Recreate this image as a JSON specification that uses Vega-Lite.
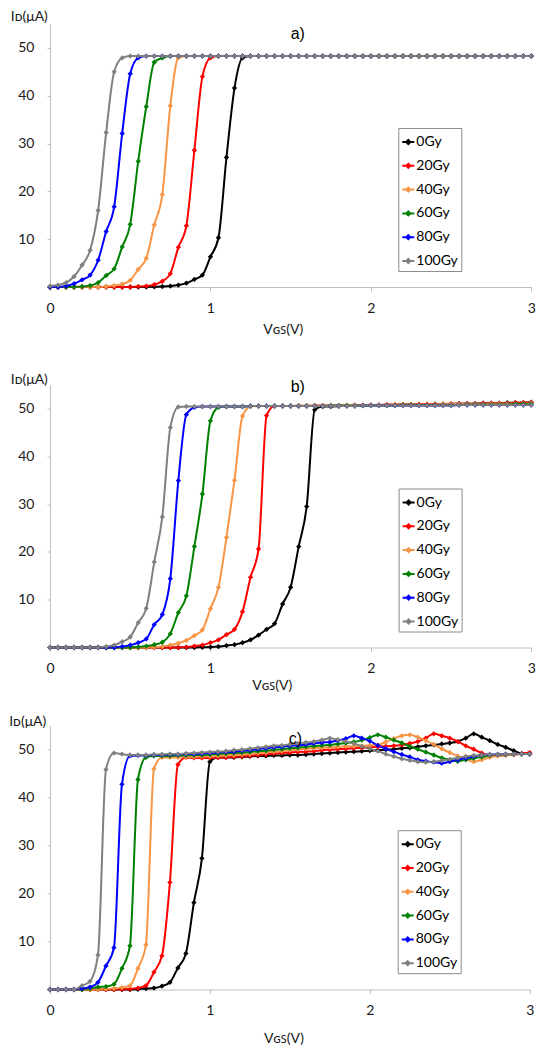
{
"$schema":"https://vega.github.io/schema/vega-lite/v6.json",
"padding":{"left":8,"top":9,"right":0,"bottom":0},
"config":{
"view":{"stroke":null},
"font":"Lato",
"axis":{"grid":false,"domainColor":"#bfbfbf","tickColor":"#bfbfbf","labelFont":"Lato","labelFontSize":14,"labelColor":"#1a1a1a","titleFont":"Lato, Noto Sans","titleFontSize":14,"titleFontWeight":"normal","titleColor":"#1a1a1a","labelFlush":false},
"axisX":{"tickSize":4,"labelPadding":10},
"axisY":{"tickSize":3,"labelPadding":13},
"legend":{"padding":3,"strokeColor":"#8c8c8c","fillColor":"#ffffff","labelFont":"Lato","labelFontSize":14,"labelColor":"#000000","labelOffset":-7,"rowPadding":5.8,"labelLimit":200},
"title":{"font":"Liberation Sans","fontSize":16,"fontWeight":"normal","color":"#000000"}
},
"datasets":{
"a":[
{"x":0,"0Gy":0,"20Gy":0,"40Gy":0,"60Gy":0,"80Gy":0,"100Gy":0.2},
{"x":0.05,"0Gy":0,"20Gy":0,"40Gy":0,"60Gy":0,"80Gy":0,"100Gy":0.4},
{"x":0.1,"0Gy":0,"20Gy":0,"40Gy":0,"60Gy":0,"80Gy":0.2,"100Gy":0.9},
{"x":0.15,"0Gy":0,"20Gy":0,"40Gy":0,"60Gy":0,"80Gy":0.7,"100Gy":2.2},
{"x":0.2,"0Gy":0,"20Gy":0,"40Gy":0,"60Gy":0.1,"80Gy":1.5,"100Gy":4.6},
{"x":0.25,"0Gy":0,"20Gy":0,"40Gy":0,"60Gy":0.3,"80Gy":2.5,"100Gy":7.7},
{"x":0.3,"0Gy":0,"20Gy":0,"40Gy":0,"60Gy":0.9,"80Gy":5.6,"100Gy":16},
{"x":0.35,"0Gy":0,"20Gy":0,"40Gy":0.1,"60Gy":2.4,"80Gy":11.6,"100Gy":32.3},
{"x":0.4,"0Gy":0,"20Gy":0,"40Gy":0.3,"60Gy":3.8,"80Gy":16.8,"100Gy":45},
{"x":0.45,"0Gy":0,"20Gy":0,"40Gy":0.6,"60Gy":8.4,"80Gy":32.1,"100Gy":47.9},
{"x":0.5,"0Gy":0,"20Gy":0,"40Gy":1.4,"60Gy":13.1,"80Gy":44.6,"100Gy":48.3},
{"x":0.55,"0Gy":0,"20Gy":0.1,"40Gy":3.7,"60Gy":26.3,"80Gy":47.9,"100Gy":48.3},
{"x":0.6,"0Gy":0,"20Gy":0.2,"40Gy":6,"60Gy":37.7,"80Gy":48.3,"100Gy":48.3},
{"x":0.65,"0Gy":0.05,"20Gy":0.5,"40Gy":13,"60Gy":47,"80Gy":48.3,"100Gy":48.3},
{"x":0.7,"0Gy":0.1,"20Gy":1.2,"40Gy":19.3,"60Gy":47.9,"80Gy":48.3,"100Gy":48.3},
{"x":0.75,"0Gy":0.2,"20Gy":2.8,"40Gy":37.9,"60Gy":48.3,"80Gy":48.3,"100Gy":48.3},
{"x":0.8,"0Gy":0.4,"20Gy":8.3,"40Gy":47.9,"60Gy":48.3,"80Gy":48.3,"100Gy":48.3},
{"x":0.85,"0Gy":0.8,"20Gy":12.8,"40Gy":48.3,"60Gy":48.3,"80Gy":48.3,"100Gy":48.3},
{"x":0.9,"0Gy":1.6,"20Gy":28.6,"40Gy":48.3,"60Gy":48.3,"80Gy":48.3,"100Gy":48.3},
{"x":0.95,"0Gy":2.5,"20Gy":44,"40Gy":48.3,"60Gy":48.3,"80Gy":48.3,"100Gy":48.3},
{"x":1,"0Gy":6.3,"20Gy":47.9,"40Gy":48.3,"60Gy":48.3,"80Gy":48.3,"100Gy":48.3},
{"x":1.05,"0Gy":10.3,"20Gy":48.3,"40Gy":48.3,"60Gy":48.3,"80Gy":48.3,"100Gy":48.3},
{"x":1.1,"0Gy":27.1,"20Gy":48.3,"40Gy":48.3,"60Gy":48.3,"80Gy":48.3,"100Gy":48.3},
{"x":1.15,"0Gy":41.6,"20Gy":48.3,"40Gy":48.3,"60Gy":48.3,"80Gy":48.3,"100Gy":48.3},
{"x":1.2,"0Gy":47.9,"20Gy":48.3,"40Gy":48.3,"60Gy":48.3,"80Gy":48.3,"100Gy":48.3},
{"x":1.25,"0Gy":48.3,"20Gy":48.3,"40Gy":48.3,"60Gy":48.3,"80Gy":48.3,"100Gy":48.3},
{"x":1.3,"0Gy":48.3,"20Gy":48.3,"40Gy":48.3,"60Gy":48.3,"80Gy":48.3,"100Gy":48.3},
{"x":1.35,"0Gy":48.3,"20Gy":48.3,"40Gy":48.3,"60Gy":48.3,"80Gy":48.3,"100Gy":48.3},
{"x":1.4,"0Gy":48.3,"20Gy":48.3,"40Gy":48.3,"60Gy":48.3,"80Gy":48.3,"100Gy":48.3},
{"x":1.45,"0Gy":48.3,"20Gy":48.3,"40Gy":48.3,"60Gy":48.3,"80Gy":48.3,"100Gy":48.3},
{"x":1.5,"0Gy":48.3,"20Gy":48.3,"40Gy":48.3,"60Gy":48.3,"80Gy":48.3,"100Gy":48.3},
{"x":1.55,"0Gy":48.3,"20Gy":48.3,"40Gy":48.3,"60Gy":48.3,"80Gy":48.3,"100Gy":48.3},
{"x":1.6,"0Gy":48.3,"20Gy":48.3,"40Gy":48.3,"60Gy":48.3,"80Gy":48.3,"100Gy":48.3},
{"x":1.65,"0Gy":48.3,"20Gy":48.3,"40Gy":48.3,"60Gy":48.3,"80Gy":48.3,"100Gy":48.3},
{"x":1.7,"0Gy":48.3,"20Gy":48.3,"40Gy":48.3,"60Gy":48.3,"80Gy":48.3,"100Gy":48.3},
{"x":1.75,"0Gy":48.3,"20Gy":48.3,"40Gy":48.3,"60Gy":48.3,"80Gy":48.3,"100Gy":48.3},
{"x":1.8,"0Gy":48.3,"20Gy":48.3,"40Gy":48.3,"60Gy":48.3,"80Gy":48.3,"100Gy":48.3},
{"x":1.85,"0Gy":48.3,"20Gy":48.3,"40Gy":48.3,"60Gy":48.3,"80Gy":48.3,"100Gy":48.3},
{"x":1.9,"0Gy":48.3,"20Gy":48.3,"40Gy":48.3,"60Gy":48.3,"80Gy":48.3,"100Gy":48.3},
{"x":1.95,"0Gy":48.3,"20Gy":48.3,"40Gy":48.3,"60Gy":48.3,"80Gy":48.3,"100Gy":48.3},
{"x":2,"0Gy":48.3,"20Gy":48.3,"40Gy":48.3,"60Gy":48.3,"80Gy":48.3,"100Gy":48.3},
{"x":2.05,"0Gy":48.3,"20Gy":48.3,"40Gy":48.3,"60Gy":48.3,"80Gy":48.3,"100Gy":48.3},
{"x":2.1,"0Gy":48.3,"20Gy":48.3,"40Gy":48.3,"60Gy":48.3,"80Gy":48.3,"100Gy":48.3},
{"x":2.15,"0Gy":48.3,"20Gy":48.3,"40Gy":48.3,"60Gy":48.3,"80Gy":48.3,"100Gy":48.3},
{"x":2.2,"0Gy":48.3,"20Gy":48.3,"40Gy":48.3,"60Gy":48.3,"80Gy":48.3,"100Gy":48.3},
{"x":2.25,"0Gy":48.3,"20Gy":48.3,"40Gy":48.3,"60Gy":48.3,"80Gy":48.3,"100Gy":48.3},
{"x":2.3,"0Gy":48.3,"20Gy":48.3,"40Gy":48.3,"60Gy":48.3,"80Gy":48.3,"100Gy":48.3},
{"x":2.35,"0Gy":48.3,"20Gy":48.3,"40Gy":48.3,"60Gy":48.3,"80Gy":48.3,"100Gy":48.3},
{"x":2.4,"0Gy":48.3,"20Gy":48.3,"40Gy":48.3,"60Gy":48.3,"80Gy":48.3,"100Gy":48.3},
{"x":2.45,"0Gy":48.3,"20Gy":48.3,"40Gy":48.3,"60Gy":48.3,"80Gy":48.3,"100Gy":48.3},
{"x":2.5,"0Gy":48.3,"20Gy":48.3,"40Gy":48.3,"60Gy":48.3,"80Gy":48.3,"100Gy":48.3},
{"x":2.55,"0Gy":48.3,"20Gy":48.3,"40Gy":48.3,"60Gy":48.3,"80Gy":48.3,"100Gy":48.3},
{"x":2.6,"0Gy":48.3,"20Gy":48.3,"40Gy":48.3,"60Gy":48.3,"80Gy":48.3,"100Gy":48.3},
{"x":2.65,"0Gy":48.3,"20Gy":48.3,"40Gy":48.3,"60Gy":48.3,"80Gy":48.3,"100Gy":48.3},
{"x":2.7,"0Gy":48.3,"20Gy":48.3,"40Gy":48.3,"60Gy":48.3,"80Gy":48.3,"100Gy":48.3},
{"x":2.75,"0Gy":48.3,"20Gy":48.3,"40Gy":48.3,"60Gy":48.3,"80Gy":48.3,"100Gy":48.3},
{"x":2.8,"0Gy":48.3,"20Gy":48.3,"40Gy":48.3,"60Gy":48.3,"80Gy":48.3,"100Gy":48.3},
{"x":2.85,"0Gy":48.3,"20Gy":48.3,"40Gy":48.3,"60Gy":48.3,"80Gy":48.3,"100Gy":48.3},
{"x":2.9,"0Gy":48.3,"20Gy":48.3,"40Gy":48.3,"60Gy":48.3,"80Gy":48.3,"100Gy":48.3},
{"x":2.95,"0Gy":48.3,"20Gy":48.3,"40Gy":48.3,"60Gy":48.3,"80Gy":48.3,"100Gy":48.3},
{"x":3,"0Gy":48.3,"20Gy":48.3,"40Gy":48.3,"60Gy":48.3,"80Gy":48.3,"100Gy":48.3}
],
"b":[
{"x":0,"0Gy":0,"20Gy":0,"40Gy":0,"60Gy":0,"80Gy":0,"100Gy":0},
{"x":0.05,"0Gy":0,"20Gy":0,"40Gy":0,"60Gy":0,"80Gy":0,"100Gy":0},
{"x":0.1,"0Gy":0,"20Gy":0,"40Gy":0,"60Gy":0,"80Gy":0,"100Gy":0},
{"x":0.15,"0Gy":0,"20Gy":0,"40Gy":0,"60Gy":0,"80Gy":0,"100Gy":0},
{"x":0.2,"0Gy":0,"20Gy":0,"40Gy":0,"60Gy":0,"80Gy":0,"100Gy":0},
{"x":0.25,"0Gy":0,"20Gy":0,"40Gy":0,"60Gy":0,"80Gy":0,"100Gy":0},
{"x":0.3,"0Gy":0,"20Gy":0,"40Gy":0,"60Gy":0,"80Gy":0,"100Gy":0},
{"x":0.35,"0Gy":0,"20Gy":0,"40Gy":0,"60Gy":0,"80Gy":0,"100Gy":0.2},
{"x":0.4,"0Gy":0,"20Gy":0,"40Gy":0,"60Gy":0,"80Gy":0,"100Gy":0.5},
{"x":0.45,"0Gy":0,"20Gy":0,"40Gy":0,"60Gy":0,"80Gy":0.2,"100Gy":1.2},
{"x":0.5,"0Gy":0,"20Gy":0,"40Gy":0,"60Gy":0,"80Gy":0.5,"100Gy":2.2},
{"x":0.55,"0Gy":0,"20Gy":0,"40Gy":0,"60Gy":0.1,"80Gy":1,"100Gy":5.2},
{"x":0.6,"0Gy":0,"20Gy":0,"40Gy":0,"60Gy":0.3,"80Gy":1.8,"100Gy":8.2},
{"x":0.65,"0Gy":0,"20Gy":0,"40Gy":0.05,"60Gy":0.6,"80Gy":4.8,"100Gy":17.9},
{"x":0.7,"0Gy":0,"20Gy":0,"40Gy":0.2,"60Gy":1.1,"80Gy":6.9,"100Gy":27.3},
{"x":0.75,"0Gy":0,"20Gy":0,"40Gy":0.5,"60Gy":2.9,"80Gy":14.4,"100Gy":46},
{"x":0.8,"0Gy":0,"20Gy":0,"40Gy":0.9,"60Gy":7.3,"80Gy":34.9,"100Gy":50.3},
{"x":0.85,"0Gy":0,"20Gy":0.1,"40Gy":1.5,"60Gy":10.8,"80Gy":48.7,"100Gy":50.4},
{"x":0.9,"0Gy":0,"20Gy":0.3,"40Gy":2.5,"60Gy":21.1,"80Gy":50.2,"100Gy":50.4},
{"x":0.95,"0Gy":0.05,"20Gy":0.5,"40Gy":3.7,"60Gy":32.1,"80Gy":50.4,"100Gy":50.4},
{"x":1,"0Gy":0.1,"20Gy":1,"40Gy":8.1,"60Gy":47.4,"80Gy":50.4,"100Gy":50.4},
{"x":1.05,"0Gy":0.2,"20Gy":1.6,"40Gy":12.6,"60Gy":50.2,"80Gy":50.4,"100Gy":50.4},
{"x":1.1,"0Gy":0.4,"20Gy":2.7,"40Gy":23,"60Gy":50.4,"80Gy":50.4,"100Gy":50.4},
{"x":1.15,"0Gy":0.6,"20Gy":3.8,"40Gy":35,"60Gy":50.4,"80Gy":50.4,"100Gy":50.4},
{"x":1.2,"0Gy":1,"20Gy":7.5,"40Gy":48.4,"60Gy":50.4,"80Gy":50.4,"100Gy":50.4},
{"x":1.25,"0Gy":1.6,"20Gy":14.7,"40Gy":50.4,"60Gy":50.5,"80Gy":50.5,"100Gy":50.5},
{"x":1.3,"0Gy":2.6,"20Gy":20.6,"40Gy":50.5,"60Gy":50.5,"80Gy":50.5,"100Gy":50.5},
{"x":1.35,"0Gy":3.8,"20Gy":48.5,"40Gy":50.5,"60Gy":50.5,"80Gy":50.5,"100Gy":50.5},
{"x":1.4,"0Gy":5,"20Gy":50.5,"40Gy":50.5,"60Gy":50.5,"80Gy":50.5,"100Gy":50.5},
{"x":1.45,"0Gy":9.1,"20Gy":50.5,"40Gy":50.5,"60Gy":50.5,"80Gy":50.5,"100Gy":50.5},
{"x":1.5,"0Gy":12.6,"20Gy":50.5,"40Gy":50.5,"60Gy":50.5,"80Gy":50.5,"100Gy":50.5},
{"x":1.55,"0Gy":21.1,"20Gy":50.5,"40Gy":50.6,"60Gy":50.5,"80Gy":50.5,"100Gy":50.5},
{"x":1.6,"0Gy":29.5,"20Gy":50.5,"40Gy":50.6,"60Gy":50.5,"80Gy":50.5,"100Gy":50.5},
{"x":1.65,"0Gy":49.7,"20Gy":50.6,"40Gy":50.6,"60Gy":50.5,"80Gy":50.5,"100Gy":50.5},
{"x":1.7,"0Gy":50.4,"20Gy":50.6,"40Gy":50.6,"60Gy":50.5,"80Gy":50.5,"100Gy":50.5},
{"x":1.75,"0Gy":50.4,"20Gy":50.6,"40Gy":50.6,"60Gy":50.6,"80Gy":50.5,"100Gy":50.5},
{"x":1.8,"0Gy":50.5,"20Gy":50.6,"40Gy":50.6,"60Gy":50.6,"80Gy":50.5,"100Gy":50.5},
{"x":1.85,"0Gy":50.6,"20Gy":50.6,"40Gy":50.7,"60Gy":50.6,"80Gy":50.5,"100Gy":50.5},
{"x":1.9,"0Gy":50.6,"20Gy":50.7,"40Gy":50.7,"60Gy":50.6,"80Gy":50.5,"100Gy":50.5},
{"x":1.95,"0Gy":50.6,"20Gy":50.7,"40Gy":50.7,"60Gy":50.6,"80Gy":50.6,"100Gy":50.6},
{"x":2,"0Gy":50.7,"20Gy":50.7,"40Gy":50.7,"60Gy":50.6,"80Gy":50.6,"100Gy":50.6},
{"x":2.05,"0Gy":50.7,"20Gy":50.7,"40Gy":50.7,"60Gy":50.6,"80Gy":50.6,"100Gy":50.6},
{"x":2.1,"0Gy":50.7,"20Gy":50.8,"40Gy":50.7,"60Gy":50.6,"80Gy":50.6,"100Gy":50.6},
{"x":2.15,"0Gy":50.7,"20Gy":50.8,"40Gy":50.8,"60Gy":50.6,"80Gy":50.6,"100Gy":50.6},
{"x":2.2,"0Gy":50.8,"20Gy":50.8,"40Gy":50.8,"60Gy":50.7,"80Gy":50.6,"100Gy":50.6},
{"x":2.25,"0Gy":50.8,"20Gy":50.8,"40Gy":50.8,"60Gy":50.7,"80Gy":50.6,"100Gy":50.6},
{"x":2.3,"0Gy":50.8,"20Gy":50.9,"40Gy":50.8,"60Gy":50.7,"80Gy":50.6,"100Gy":50.6},
{"x":2.35,"0Gy":50.8,"20Gy":50.9,"40Gy":50.8,"60Gy":50.7,"80Gy":50.6,"100Gy":50.6},
{"x":2.4,"0Gy":50.9,"20Gy":50.9,"40Gy":50.8,"60Gy":50.7,"80Gy":50.6,"100Gy":50.6},
{"x":2.45,"0Gy":50.9,"20Gy":50.9,"40Gy":50.9,"60Gy":50.7,"80Gy":50.6,"100Gy":50.6},
{"x":2.5,"0Gy":50.9,"20Gy":51,"40Gy":50.9,"60Gy":50.7,"80Gy":50.6,"100Gy":50.6},
{"x":2.55,"0Gy":51,"20Gy":51,"40Gy":50.9,"60Gy":50.7,"80Gy":50.7,"100Gy":50.7},
{"x":2.6,"0Gy":51,"20Gy":51,"40Gy":50.9,"60Gy":50.8,"80Gy":50.7,"100Gy":50.7},
{"x":2.65,"0Gy":51,"20Gy":51,"40Gy":50.9,"60Gy":50.8,"80Gy":50.7,"100Gy":50.7},
{"x":2.7,"0Gy":51.1,"20Gy":51.1,"40Gy":50.9,"60Gy":50.8,"80Gy":50.7,"100Gy":50.7},
{"x":2.75,"0Gy":51.1,"20Gy":51.1,"40Gy":51,"60Gy":50.8,"80Gy":50.7,"100Gy":50.7},
{"x":2.8,"0Gy":51.1,"20Gy":51.1,"40Gy":51,"60Gy":50.8,"80Gy":50.7,"100Gy":50.7},
{"x":2.85,"0Gy":51.2,"20Gy":51.1,"40Gy":51,"60Gy":50.8,"80Gy":50.7,"100Gy":50.7},
{"x":2.9,"0Gy":51.2,"20Gy":51.2,"40Gy":51,"60Gy":50.9,"80Gy":50.7,"100Gy":50.7},
{"x":2.95,"0Gy":51.2,"20Gy":51.2,"40Gy":51,"60Gy":50.9,"80Gy":50.7,"100Gy":50.7},
{"x":3,"0Gy":51.3,"20Gy":51.2,"40Gy":51.1,"60Gy":50.9,"80Gy":50.7,"100Gy":50.7}
],
"c":[
{"x":0,"0Gy":0,"20Gy":0,"40Gy":0,"60Gy":0,"80Gy":0,"100Gy":0},
{"x":0.05,"0Gy":0,"20Gy":0,"40Gy":0,"60Gy":0,"80Gy":0,"100Gy":0},
{"x":0.1,"0Gy":0,"20Gy":0,"40Gy":0,"60Gy":0,"80Gy":0,"100Gy":0},
{"x":0.15,"0Gy":0,"20Gy":0,"40Gy":0,"60Gy":0,"80Gy":0,"100Gy":0},
{"x":0.2,"0Gy":0,"20Gy":0,"40Gy":0,"60Gy":0,"80Gy":0.2,"100Gy":0.8},
{"x":0.25,"0Gy":0,"20Gy":0,"40Gy":0,"60Gy":0.2,"80Gy":0.5,"100Gy":1.7},
{"x":0.3,"0Gy":0,"20Gy":0,"40Gy":0,"60Gy":0.5,"80Gy":1.5,"100Gy":7.2},
{"x":0.35,"0Gy":0,"20Gy":0,"40Gy":0.1,"60Gy":0.6,"80Gy":4.9,"100Gy":45.8},
{"x":0.4,"0Gy":0,"20Gy":0,"40Gy":0.2,"60Gy":1.1,"80Gy":8.7,"100Gy":49.2},
{"x":0.45,"0Gy":0,"20Gy":0.05,"40Gy":0.4,"60Gy":4.4,"80Gy":42.7,"100Gy":49},
{"x":0.5,"0Gy":0,"20Gy":0.1,"40Gy":0.8,"60Gy":9.1,"80Gy":48.6,"100Gy":48.8},
{"x":0.55,"0Gy":0.05,"20Gy":0.3,"40Gy":4.4,"60Gy":43.7,"80Gy":48.7,"100Gy":48.8},
{"x":0.6,"0Gy":0.2,"20Gy":0.8,"40Gy":9.3,"60Gy":48.3,"80Gy":48.7,"100Gy":48.8},
{"x":0.65,"0Gy":0.3,"20Gy":3.6,"40Gy":45.9,"60Gy":48.6,"80Gy":48.8,"100Gy":48.9},
{"x":0.7,"0Gy":0.7,"20Gy":7,"40Gy":48.3,"60Gy":48.6,"80Gy":48.8,"100Gy":48.9},
{"x":0.75,"0Gy":1.5,"20Gy":22.3,"40Gy":48.3,"60Gy":48.6,"80Gy":48.9,"100Gy":49},
{"x":0.8,"0Gy":4.5,"20Gy":46.8,"40Gy":48.3,"60Gy":48.7,"80Gy":48.9,"100Gy":49},
{"x":0.85,"0Gy":7.5,"20Gy":48.3,"40Gy":48.4,"60Gy":48.7,"80Gy":49,"100Gy":49.1},
{"x":0.9,"0Gy":18.1,"20Gy":48.2,"40Gy":48.4,"60Gy":48.8,"80Gy":49,"100Gy":49.2},
{"x":0.95,"0Gy":27.3,"20Gy":48.2,"40Gy":48.5,"60Gy":48.8,"80Gy":49.1,"100Gy":49.3},
{"x":1,"0Gy":47.4,"20Gy":48.2,"40Gy":48.5,"60Gy":48.9,"80Gy":49.2,"100Gy":49.4},
{"x":1.05,"0Gy":48.3,"20Gy":48.3,"40Gy":48.6,"60Gy":49,"80Gy":49.3,"100Gy":49.5},
{"x":1.1,"0Gy":48.3,"20Gy":48.3,"40Gy":48.7,"60Gy":49.1,"80Gy":49.4,"100Gy":49.6},
{"x":1.15,"0Gy":48.3,"20Gy":48.4,"40Gy":48.8,"60Gy":49.2,"80Gy":49.5,"100Gy":49.8},
{"x":1.2,"0Gy":48.4,"20Gy":48.5,"40Gy":48.9,"60Gy":49.3,"80Gy":49.7,"100Gy":49.9},
{"x":1.25,"0Gy":48.5,"20Gy":48.6,"40Gy":49,"60Gy":49.4,"80Gy":49.8,"100Gy":50.1},
{"x":1.3,"0Gy":48.6,"20Gy":48.8,"40Gy":49.2,"60Gy":49.6,"80Gy":50,"100Gy":50.3},
{"x":1.35,"0Gy":48.6,"20Gy":48.9,"40Gy":49.3,"60Gy":49.7,"80Gy":50.2,"100Gy":50.5},
{"x":1.4,"0Gy":48.7,"20Gy":49.1,"40Gy":49.5,"60Gy":49.9,"80Gy":50.4,"100Gy":50.7},
{"x":1.45,"0Gy":48.7,"20Gy":49.2,"40Gy":49.6,"60Gy":50,"80Gy":50.5,"100Gy":50.8},
{"x":1.5,"0Gy":48.8,"20Gy":49.3,"40Gy":49.8,"60Gy":50.2,"80Gy":50.7,"100Gy":51},
{"x":1.55,"0Gy":48.8,"20Gy":49.4,"40Gy":49.9,"60Gy":50.3,"80Gy":50.8,"100Gy":51.2},
{"x":1.6,"0Gy":48.9,"20Gy":49.5,"40Gy":50.1,"60Gy":50.5,"80Gy":51,"100Gy":51.4},
{"x":1.65,"0Gy":49,"20Gy":49.6,"40Gy":50.2,"60Gy":50.6,"80Gy":51.2,"100Gy":51.6},
{"x":1.7,"0Gy":49.1,"20Gy":49.8,"40Gy":50.3,"60Gy":50.8,"80Gy":51.4,"100Gy":51.9},
{"x":1.75,"0Gy":49.2,"20Gy":49.9,"40Gy":50.4,"60Gy":50.9,"80Gy":51.5,"100Gy":52.3},
{"x":1.8,"0Gy":49.3,"20Gy":50,"40Gy":50.5,"60Gy":51.1,"80Gy":51.8,"100Gy":52},
{"x":1.85,"0Gy":49.4,"20Gy":50.1,"40Gy":50.6,"60Gy":51.3,"80Gy":52.2,"100Gy":51.6},
{"x":1.9,"0Gy":49.5,"20Gy":50.2,"40Gy":50.6,"60Gy":51.5,"80Gy":52.8,"100Gy":51.2},
{"x":1.95,"0Gy":49.6,"20Gy":50.3,"40Gy":50.7,"60Gy":51.9,"80Gy":52.3,"100Gy":50.6},
{"x":2,"0Gy":49.7,"20Gy":50.4,"40Gy":50.8,"60Gy":52.4,"80Gy":51.7,"100Gy":50.1},
{"x":2.05,"0Gy":49.8,"20Gy":50.5,"40Gy":50.9,"60Gy":53,"80Gy":50.8,"100Gy":49.6},
{"x":2.1,"0Gy":49.9,"20Gy":50.6,"40Gy":51.5,"60Gy":52.5,"80Gy":50.1,"100Gy":49},
{"x":2.15,"0Gy":50,"20Gy":50.7,"40Gy":52.2,"60Gy":51.9,"80Gy":49.5,"100Gy":48.5},
{"x":2.2,"0Gy":50.2,"20Gy":50.9,"40Gy":52.8,"60Gy":51.3,"80Gy":48.9,"100Gy":48},
{"x":2.25,"0Gy":50.3,"20Gy":51.2,"40Gy":53,"60Gy":50.6,"80Gy":48.4,"100Gy":47.7},
{"x":2.3,"0Gy":50.5,"20Gy":51.6,"40Gy":52.5,"60Gy":50,"80Gy":47.8,"100Gy":47.4},
{"x":2.35,"0Gy":50.7,"20Gy":52.3,"40Gy":51.8,"60Gy":49.4,"80Gy":47.5,"100Gy":47.3},
{"x":2.4,"0Gy":50.9,"20Gy":53.2,"40Gy":51,"60Gy":48.8,"80Gy":47.3,"100Gy":47.4},
{"x":2.45,"0Gy":51.1,"20Gy":52.8,"40Gy":50.1,"60Gy":48.2,"80Gy":47.1,"100Gy":47.6},
{"x":2.5,"0Gy":51.3,"20Gy":52.3,"40Gy":49.3,"60Gy":47.8,"80Gy":47.4,"100Gy":47.9},
{"x":2.55,"0Gy":51.6,"20Gy":51.6,"40Gy":48.6,"60Gy":47.5,"80Gy":47.8,"100Gy":48.2},
{"x":2.6,"0Gy":52.3,"20Gy":50.7,"40Gy":47.9,"60Gy":47.8,"80Gy":48.1,"100Gy":48.5},
{"x":2.65,"0Gy":53.2,"20Gy":50,"40Gy":47.4,"60Gy":48.1,"80Gy":48.5,"100Gy":48.7},
{"x":2.7,"0Gy":52.5,"20Gy":49.2,"40Gy":47.8,"60Gy":48.4,"80Gy":48.8,"100Gy":48.8},
{"x":2.75,"0Gy":51.8,"20Gy":48.8,"40Gy":48.3,"60Gy":48.7,"80Gy":48.9,"100Gy":48.9},
{"x":2.8,"0Gy":51,"20Gy":48.7,"40Gy":48.6,"60Gy":48.9,"80Gy":48.9,"100Gy":48.9},
{"x":2.85,"0Gy":50.4,"20Gy":48.8,"40Gy":48.8,"60Gy":48.9,"80Gy":49,"100Gy":49},
{"x":2.9,"0Gy":49.7,"20Gy":48.9,"40Gy":48.9,"60Gy":49,"80Gy":49,"100Gy":49},
{"x":2.95,"0Gy":49.1,"20Gy":49.1,"40Gy":49,"60Gy":49,"80Gy":49,"100Gy":49},
{"x":3,"0Gy":49,"20Gy":49.3,"40Gy":49,"60Gy":49,"80Gy":49,"100Gy":49}
]
},
"spacing":35.5,
"resolve":{"scale":{"color":"independent"},"legend":{"color":"independent"}},
"vconcat":[
{
"width":481.3,"height":263,
"data":{"name":"a"},
"transform":[{"fold":["0Gy","20Gy","40Gy","60Gy","80Gy","100Gy"],"as":["dose","I"]}],
"title":{"text":"a)","frame":"group","anchor":"start","align":"center","dx":247.8,"offset":-40.5,"baseline":"middle"},
"mark":{"type":"line","interpolate":"monotone","strokeWidth":2,"point":{"shape":"diamond","size":28,"filled":true}},
"encoding":{
"x":{"field":"x","type":"quantitative","scale":{"domain":[0,3],"nice":false,"zero":false},"axis":{"values":[0,1,2,3],"format":"d","title":"Vɢꜱ(V)","titleAlign":"center","titleBaseline":"middle","titleX":232.8,"titleY":42.5}},
"y":{"field":"I","type":"quantitative","scale":{"domain":[0,55],"nice":false},"axis":{"values":[10,20,30,40,50],"title":"Iᴅ(μA)","titleAngle":0,"titleAlign":"left","titleBaseline":"middle","titleX":-39.7,"titleY":-8}},
"color":{"field":"dose","type":"nominal","scale":{"domain":["0Gy","20Gy","40Gy","60Gy","80Gy","100Gy"],"range":["#000000","#ff0000","#f79646","#008000","#0000ff","#808080"]},"legend":{"title":null,"orient":"none","legendX":348.3,"legendY":104,"symbolType":"M-1,0L0.2,0M-0.4,-0.2L-0.2,0L-0.4,0.2L-0.6,0Z","symbolSize":400,"symbolStrokeWidth":2}}
}
},
{
"spacing":21.7,
"resolve":{"scale":{"color":"independent"},"legend":{"color":"independent"}},
"vconcat":[
{
"width":481.3,"height":263,
"data":{"name":"b"},
"transform":[{"fold":["0Gy","20Gy","40Gy","60Gy","80Gy","100Gy"],"as":["dose","I"]}],
"title":{"text":"b)","frame":"group","anchor":"start","align":"center","dx":247.8,"offset":-30.5,"baseline":"middle"},
"mark":{"type":"line","interpolate":"monotone","strokeWidth":2,"point":{"shape":"diamond","size":28,"filled":true}},
"encoding":{
"x":{"field":"x","type":"quantitative","scale":{"domain":[0,3],"nice":false,"zero":false},"axis":{"values":[0,1,2,3],"format":"d","title":"Vɢꜱ(V)","titleAlign":"center","titleBaseline":"middle","titleX":221.8,"titleY":38}},
"y":{"field":"I","type":"quantitative","scale":{"domain":[0,55],"nice":false},"axis":{"values":[10,20,30,40,50],"title":"Iᴅ(μA)","titleAngle":0,"titleAlign":"left","titleBaseline":"middle","titleX":-39.7,"titleY":-5}},
"color":{"field":"dose","type":"nominal","scale":{"domain":["0Gy","20Gy","40Gy","60Gy","80Gy","100Gy"],"range":["#000000","#ff0000","#f79646","#008000","#0000ff","#808080"]},"legend":{"title":null,"orient":"none","legendX":348.6,"legendY":104,"symbolType":"M-1,0L0.2,0M-0.4,-0.2L-0.2,0L-0.4,0.2L-0.6,0Z","symbolSize":400,"symbolStrokeWidth":2}}
}
},
{
"width":479.7,"height":264.3,
"data":{"name":"c"},
"transform":[{"fold":["0Gy","20Gy","40Gy","60Gy","80Gy","100Gy"],"as":["dose","I"]}],
"title":{"text":"c)","frame":"group","anchor":"start","align":"center","dx":245.4,"offset":-40.5,"baseline":"middle"},
"mark":{"type":"line","interpolate":"monotone","strokeWidth":2,"point":{"shape":"diamond","size":28,"filled":true}},
"encoding":{
"x":{"field":"x","type":"quantitative","scale":{"domain":[0,3],"nice":false,"zero":false},"axis":{"values":[0,1,2,3],"format":"d","title":"Vɢꜱ(V)","titleAlign":"center","titleBaseline":"middle","titleX":233.4,"titleY":48.7}},
"y":{"field":"I","type":"quantitative","scale":{"domain":[0,55],"nice":false},"axis":{"values":[10,20,30,40,50],"title":"Iᴅ(μA)","titleAngle":0,"titleAlign":"left","titleBaseline":"middle","titleX":-41.3,"titleY":-3.3}},
"color":{"field":"dose","type":"nominal","scale":{"domain":["0Gy","20Gy","40Gy","60Gy","80Gy","100Gy"],"range":["#000000","#ff0000","#f79646","#008000","#0000ff","#808080"]},"legend":{"title":null,"orient":"none","legendX":347.7,"legendY":105,"symbolType":"M-1,0L0.2,0M-0.4,-0.2L-0.2,0L-0.4,0.2L-0.6,0Z","symbolSize":400,"symbolStrokeWidth":2}}
}
}
]
}
]
}
